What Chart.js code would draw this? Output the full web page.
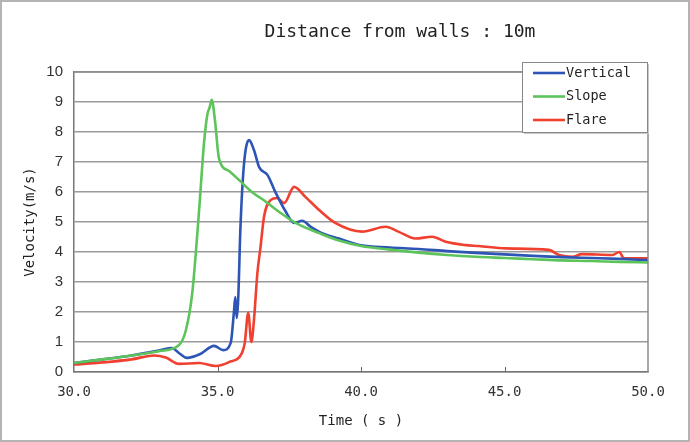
<!DOCTYPE html>
<html>
<head>
<meta charset="utf-8">
<script src="https://cdn.jsdelivr.net/npm/chart.js@4.4.1/dist/chart.umd.min.js"></script>
<style>
  html, body { margin: 0; padding: 0; background: #fff; }
</style>
</head>
<body>
<canvas id="velChart" width="690" height="442"></canvas>
<script>
const chartTitle = "Distance from walls : 10m";
const seriesNames = ["Vertical", "Slope", "Flare"];
const seriesColors = ["#2d55b5", "#5cc45a", "#f0402f"];

const verticalTime = [30, 31, 32, 33, 33.4, 33.7, 33.94, 34.4, 34.88, 35.2, 35.46, 35.57, 35.62, 35.67, 35.72, 35.8, 35.92, 36.1, 36.27, 36.45, 36.74, 37.03, 37.38, 37.67, 37.95, 38.25, 38.64, 39.23, 40, 41, 42, 43, 44, 45, 46, 47, 48, 49, 50];
const verticalVel = [0.3, 0.42, 0.55, 0.72, 0.8, 0.6, 0.47, 0.6, 0.87, 0.73, 0.97, 1.97, 2.5, 1.8, 2.4, 4.83, 6.9, 7.73, 7.4, 6.83, 6.57, 5.97, 5.34, 4.97, 5.04, 4.84, 4.63, 4.45, 4.22, 4.15, 4.1, 4.03, 3.97, 3.92, 3.87, 3.83, 3.8, 3.77, 3.73];

const slopeTime = [30, 31, 32, 33, 33.66, 33.9, 34.12, 34.36, 34.53, 34.65, 34.72, 34.8, 34.91, 35.05, 35.4, 35.75, 36.2, 36.68, 37.2, 37.72, 38.54, 39.23, 40, 41, 42, 43, 44, 45, 46, 47, 48, 49, 50];
const slopeVel = [0.3, 0.42, 0.55, 0.7, 0.9, 1.4, 2.63, 5.4, 7.63, 8.6, 8.8, 9.07, 8.4, 7.13, 6.7, 6.4, 6.0, 5.68, 5.3, 4.97, 4.63, 4.38, 4.2, 4.08, 3.98, 3.9, 3.84, 3.8, 3.76, 3.72, 3.7, 3.67, 3.65];

const flareTime = [30, 31, 32, 32.8, 33.2, 33.66, 34.36, 34.94, 35.4, 35.85, 35.95, 36.07, 36.18, 36.27, 36.39, 36.5, 36.62, 36.85, 37.08, 37.32, 37.67, 38.07, 38.54, 39.1, 40.04, 40.86, 41.3, 41.9, 42.48, 42.95, 43.65, 44.1, 45.04, 46.55, 46.9, 47.36, 47.7, 48.76, 49.0, 49.16, 50];
const flareVel = [0.25, 0.32, 0.42, 0.55, 0.48, 0.27, 0.3, 0.2, 0.33, 0.63, 0.97, 1.97, 1.0, 1.73, 3.3, 4.17, 5.17, 5.73, 5.8, 5.63, 6.17, 5.83, 5.4, 4.97, 4.68, 4.84, 4.68, 4.45, 4.51, 4.34, 4.23, 4.2, 4.12, 4.07, 3.9, 3.84, 3.93, 3.9, 4.0, 3.79, 3.79];

const xTicks = [30, 35, 40, 45, 50];
const yTicks = [0, 1, 2, 3, 4, 5, 6, 7, 8, 9, 10];

const toPoints = (ts, vs) => ts.map((t, i) => ({ x: t, y: vs[i] }));

function makeSet(idx, ts, vs, order) {
  return {
    label: seriesNames[idx],
    data: toPoints(ts, vs),
    borderColor: seriesColors[idx],
    backgroundColor: seriesColors[idx],
    borderWidth: 2.6,
    pointRadius: 0,
    cubicInterpolationMode: "monotone",
    order: order,
  };
}

// frame, title, legend and little inner ticks
const decor = {
  id: "decor",
  afterDraw(chart) {
    const { ctx, chartArea: a } = chart;
    ctx.save();
    ctx.strokeStyle = "#b4b4b4";
    ctx.lineWidth = 2;
    ctx.strokeRect(1, 1, 688, 440);

    ctx.strokeStyle = "#8a8a8a";
    ctx.lineWidth = 1.5;
    ctx.beginPath();
    ctx.moveTo(a.left, a.top);
    ctx.lineTo(a.right, a.top);
    ctx.lineTo(a.right, a.bottom);
    ctx.stroke();

    const xs = chart.scales.x;
    ctx.strokeStyle = "#666";
    ctx.lineWidth = 1;
    xTicks.slice(1, -1).forEach(v => {
      const px = Math.round(xs.getPixelForValue(v)) + 0.5;
      ctx.beginPath();
      ctx.moveTo(px, a.bottom);
      ctx.lineTo(px, a.bottom - 5);
      ctx.stroke();
    });

    ctx.fillStyle = "#222";
    ctx.font = "18px 'DejaVu Sans Mono'";
    ctx.textAlign = "center";
    ctx.textBaseline = "middle";
    ctx.fillText(chartTitle, 400, 32);

    // legend
    const bx = 522, by = 62, bw = 125, bh = 70;
    ctx.fillStyle = "#c8c8c8";
    ctx.fillRect(bx + 2, by + 2, bw, bh);
    ctx.fillStyle = "#fff";
    ctx.fillRect(bx, by, bw, bh);
    ctx.strokeStyle = "#888";
    ctx.lineWidth = 1;
    ctx.strokeRect(bx + 0.5, by + 0.5, bw, bh);
    ctx.font = "13.5px 'DejaVu Sans Mono'";
    ctx.textAlign = "left";
    chart.data.datasets.forEach((ds, i) => {
      const ly = by + 11 + i * 23.5;
      ctx.strokeStyle = ds.borderColor;
      ctx.lineWidth = 2.6;
      ctx.beginPath();
      ctx.moveTo(bx + 11, ly);
      ctx.lineTo(bx + 43, ly);
      ctx.stroke();
      ctx.fillStyle = "#222";
      ctx.fillText(ds.label, bx + 44, ly);
    });
    ctx.restore();
  }
};

const ctx = document.getElementById("velChart").getContext("2d");
const velChart = new Chart(ctx, {
  type: "line",
  data: {
    datasets: [
      makeSet(0, verticalTime, verticalVel, 1),
      makeSet(1, slopeTime, slopeVel, 0),
      makeSet(2, flareTime, flareVel, 2),
    ],
  },
  options: {
    responsive: false,
    animation: false,
    layout: { padding: { left: 0, top: 72, right: 42, bottom: 0 } },
    plugins: {
      legend: { display: false },
      title: { display: false },
      tooltip: { enabled: false },
    },
    scales: {
      x: {
        type: "linear",
        min: 30,
        max: 50,
        afterBuildTicks: s => { s.ticks = xTicks.map(v => ({ value: v })); },
        afterFit: s => { s.height = 70; },
        grid: { display: false, drawTicks: false },
        border: { color: "#777", width: 1.5 },
        ticks: {
          padding: 12,
          color: "#333",
          font: { family: "'DejaVu Sans Mono'", size: 14 },
          callback: v => v.toFixed(1),
        },
        title: {
          display: true,
          text: "Time ( s )",
          color: "#222",
          font: { family: "'DejaVu Sans Mono'", size: 14 },
          padding: { top: 0, bottom: 12 },
        },
      },
      y: {
        min: 0,
        max: 10,
        afterBuildTicks: s => { s.ticks = yTicks.map(v => ({ value: v })); },
        afterFit: s => { s.width = 74; },
        grid: { color: "#9a9a9a", lineWidth: 1.5, drawTicks: false },
        border: { color: "#777", width: 1.5 },
        ticks: {
          padding: 11,
          color: "#333",
          font: { family: "'Liberation Sans'", size: 15 },
        },
        title: {
          display: true,
          text: "Velocity(m/s)",
          color: "#222",
          font: { family: "'DejaVu Sans Mono'", size: 14 },
          padding: { top: 22, bottom: 0 },
        },
      },
    },
  },
  plugins: [decor],
});
</script>
</body>
</html>
